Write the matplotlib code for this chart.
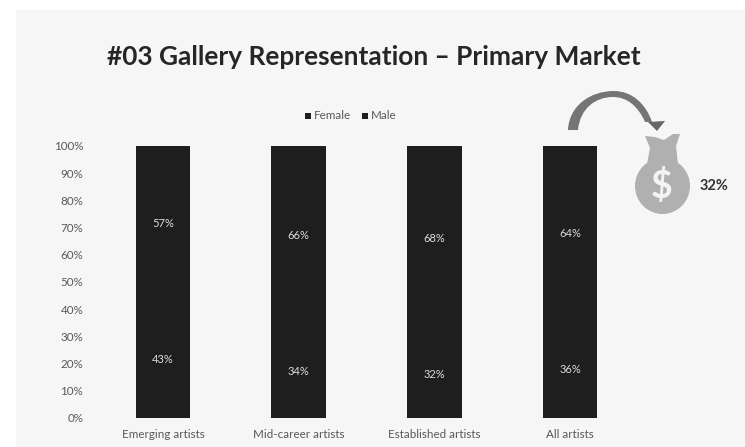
import matplotlib
matplotlib.use("Agg")
import matplotlib.pyplot as plt
from matplotlib.patches import Ellipse, Polygon, Rectangle, PathPatch
from matplotlib.path import Path

W, H = 745, 447

categories = ["Emerging artists", "Mid-career artists", "Established artists", "All artists"]
female = [43, 34, 32, 36]
male = [57, 66, 68, 64]
y_ticks = list(range(0, 101, 10))
title = "#03 Gallery Representation \u2013 Primary Market"
callout = "32%"

BAR = "#1e1e1e"
GREY = "#595959"
PANEL = "#f6f6f6"
BAG = "#b0b0b0"

plt.rcParams["font.family"] = ["Lato", "DejaVu Sans"]

fig = plt.figure(figsize=(W / 100, H / 100), dpi=100, facecolor="white")

# Full-figure layer in pixel coordinates for the panel and the decorations
bg = fig.add_axes([0, 0, 1, 1], zorder=0)
bg.set_xlim(0, W)
bg.set_ylim(H, 0)
bg.axis("off")
bg.add_patch(Rectangle((16, 10), W - 16, H - 10, fc=PANEL, ec="none"))

# Stacked bars
ax = fig.add_axes([95 / W, 1 - 418 / H, 543 / W, 272 / H], zorder=1)
ax.patch.set_alpha(0)
x = list(range(len(categories)))
ax.bar(x, female, width=0.4, color=BAR)
ax.bar(x, male, width=0.4, bottom=female, color=BAR)
ax.set_xlim(-0.5, 3.5)
ax.set_ylim(0, 100)
ax.set_yticks(y_ticks, [f"{t}%" for t in y_ticks])
ax.set_xticks(x, categories)
ax.tick_params(length=0, labelsize=8.4, labelcolor=GREY)
ax.tick_params(axis="y", pad=8.5)
ax.tick_params(axis="x", pad=8)
for s in ax.spines.values():
    s.set_visible(False)

for i, (f, m) in enumerate(zip(female, male)):
    ax.text(i, f / 2, f"{f}%", color="#dcdcdc", ha="center", va="center", fontsize=8)
    ax.text(i, f + m / 2, f"{m}%", color="#dcdcdc", ha="center", va="center", fontsize=8)

# Title and legend
fig.text(373.5 / W, 1 - 57 / H, title, ha="center", va="center",
         fontsize=18.9, fontweight="bold", color="#262626")
for px, label in [(305, "Female"), (362, "Male")]:
    bg.add_patch(Rectangle((px, 113), 5.5, 5.5, fc=BAR, ec="none"))
    bg.text(px + 9, 115.5, label, fontsize=8.4, color=GREY, va="center")

# Tapered curved arrow leading to the money bag
arc_verts = [(568, 130),
             (569, 106), (590, 91), (614, 91),
             (632, 91), (646, 104), (652, 122),
             (645, 122),
             (638, 106), (627, 97), (613, 97),
             (596, 97), (580, 108), (578, 130),
             (568, 130)]
arc_codes = [Path.MOVETO,
             Path.CURVE4, Path.CURVE4, Path.CURVE4,
             Path.CURVE4, Path.CURVE4, Path.CURVE4,
             Path.LINETO,
             Path.CURVE4, Path.CURVE4, Path.CURVE4,
             Path.CURVE4, Path.CURVE4, Path.CURVE4,
             Path.CLOSEPOLY]
bg.add_patch(PathPatch(Path(arc_verts, arc_codes), fc="#757575", ec="none"))
bg.add_patch(Polygon([(648, 122), (665, 121), (657, 131)], fc="#666666", ec="none"))

# Money bag
bg.add_patch(Ellipse((662.5, 186), 55, 56, fc=BAG, ec="none"))
bg.add_patch(Polygon([(645, 136), (655, 137), (664, 140), (673, 134), (680, 134),
                      (676, 146), (678, 164), (647, 164), (650, 148)], fc=BAG, ec="none"))
bg.text(662, 186, "$", fontsize=27, color="#f4f4f4", fontweight="bold", ha="center", va="center")
bg.text(714, 186, callout, fontsize=10.5, fontweight="bold", color="#333333", ha="center", va="center")

fig.savefig("out.png", dpi=100)
